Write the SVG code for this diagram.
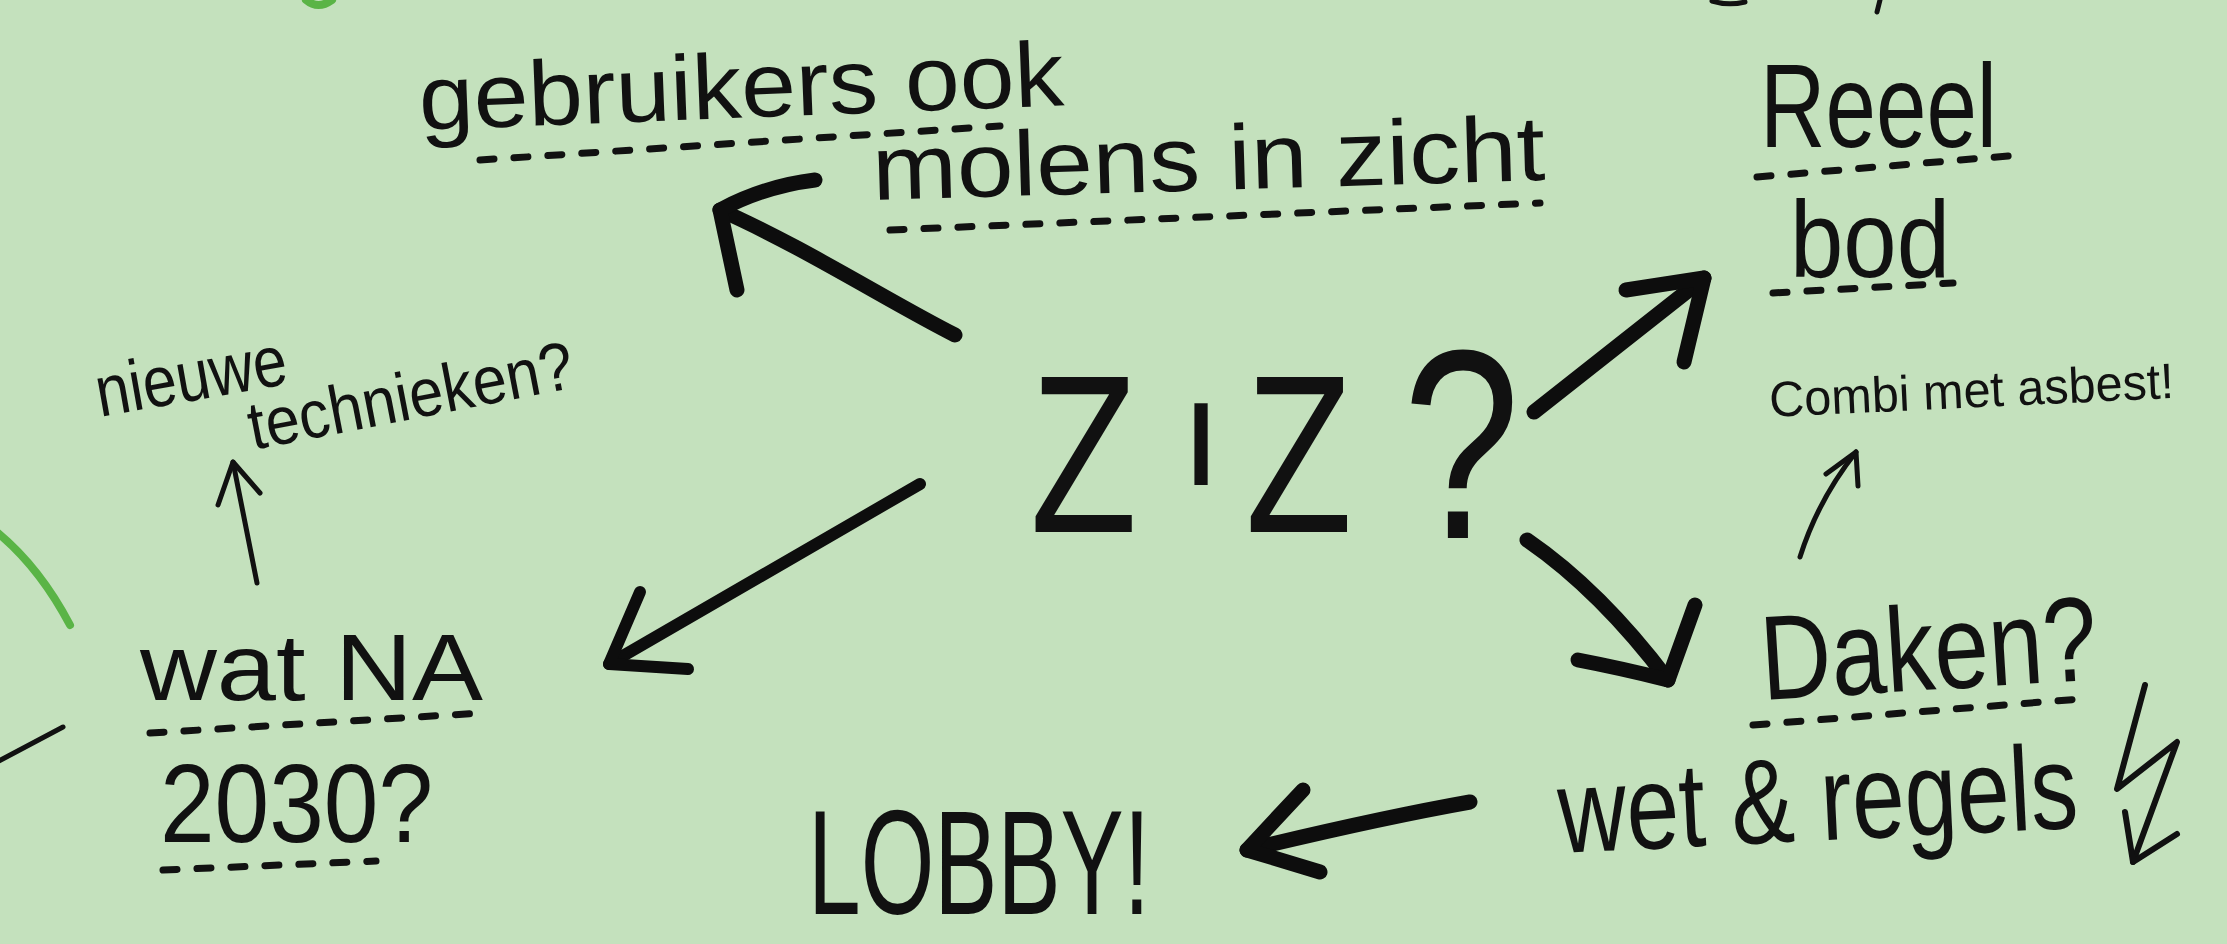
<svg xmlns="http://www.w3.org/2000/svg" width="2227" height="944" viewBox="0 0 2227 944">
<style>
.hw { font-family: "Liberation Sans", "DejaVu Sans", Arial, sans-serif; fill: #111; }
.dash { fill: none; stroke: #111; stroke-width: 7; stroke-linecap: round; stroke-dasharray: 14 20; }
.thick { fill: none; stroke: #0d0d0d; stroke-width: 15; stroke-linecap: round; stroke-linejoin: round; }
.thin { fill: none; stroke: #111; stroke-width: 5; stroke-linecap: round; stroke-linejoin: round; }
.green { fill: none; stroke: #5ab446; stroke-width: 8; stroke-linecap: round; }
</style>
<rect width="2227" height="944" fill="#c4e1bd"/>

<g id="decor">
  <path class="green" d="M306,0 Q318,10 332,0"/>
  <path class="green" d="M-2,533 Q40,568 70,625"/>
  <path class="thin" d="M-5,763 L63,727"/>
  <path class="thin" d="M1712,1 Q1728,6 1745,2"/>
  <path class="thin" d="M1880,0 L1877,12"/>
</g>

<g id="connectors">
  <path class="thick" d="M955,335 C895,305 800,245 720,210"/>
  <path class="thick" d="M815,180 Q765,186 720,210 L737,290"/>
  <path class="thick" d="M1534,412 L1704,278"/>
  <path class="thick" d="M1626,290 L1704,278 L1684,362"/>
  <path class="thick" style="stroke-width:12" d="M920,484 L609,664"/>
  <path class="thick" style="stroke-width:12" d="M640,592 L609,664 L688,669"/>
  <path class="thick" d="M1527,540 Q1600,590 1668,680"/>
  <path class="thick" d="M1695,605 L1668,680 Q1620,668 1578,660"/>
  <path class="thick" d="M1470,802 Q1380,818 1247,850"/>
  <path class="thick" d="M1303,790 L1247,850 L1320,872"/>
  <path class="thin" d="M257,583 L233,462"/>
  <path class="thin" d="M218,505 L233,462 L260,493"/>
  <path class="thin" d="M1800,557 Q1818,500 1856,452"/>
  <path class="thin" d="M1826,474 L1856,452 L1858,486"/>
  <path class="thin" style="stroke-width:6" d="M2145,685 L2117,789 L2177,742 L2133,862"/>
  <path class="thin" style="stroke-width:6" d="M2125,812 L2133,862 L2177,834"/>
</g>

<g id="center">
  <text class="hw" transform="translate(1030,532) scale(0.78,1)" font-size="225"><tspan x="0" y="0">Z</tspan><tspan x="203" y="-47" font-size="118" font-weight="700">I</tspan><tspan x="276" y="0">Z</tspan><tspan x="478" y="6" font-size="270">?</tspan></text>
</g>

<g id="gebruikers">
  <text class="hw" x="420" y="130" font-size="92" textLength="645" lengthAdjust="spacingAndGlyphs" transform="rotate(-2.2 420 130)">gebruikers ook</text>
  <path class="dash" d="M480,160 L1000,126"/>
</g>

<g id="molens">
  <text class="hw" x="873" y="200" font-size="92" textLength="673" lengthAdjust="spacingAndGlyphs" transform="rotate(-1.7 873 200)">molens in zicht</text>
  <path class="dash" d="M890,230 L1540,203"/>
</g>

<g id="reeel">
  <text class="hw" x="1760" y="147" font-size="118" textLength="237" lengthAdjust="spacingAndGlyphs">Reeel</text>
  <path class="dash" d="M1757,177 L2020,155"/>
  <text class="hw" x="1790" y="277" font-size="110" textLength="160" lengthAdjust="spacingAndGlyphs">bod</text>
  <path class="dash" d="M1773,293 L1953,283"/>
</g>

<g id="combi">
  <text class="hw" x="1770" y="417" font-size="50" textLength="405" lengthAdjust="spacingAndGlyphs" transform="rotate(-2.7 1770 417)">Combi met asbest!</text>
</g>

<g id="daken">
  <text class="hw" x="1763" y="700" font-size="120" textLength="337" lengthAdjust="spacingAndGlyphs" transform="rotate(-3.5 1763 700)">Daken?</text>
  <path class="dash" d="M1753,725 L2080,699"/>
</g>

<g id="wetregels">
  <text class="hw" x="1560" y="853" font-size="120" textLength="520" lengthAdjust="spacingAndGlyphs" transform="rotate(-2.8 1560 853)">wet &amp; regels</text>
</g>

<g id="lobby">
  <text class="hw" x="808" y="914" font-size="148" textLength="342" lengthAdjust="spacingAndGlyphs">LOBBY!</text>
</g>

<g id="watna">
  <text class="hw" x="140" y="700" font-size="95" textLength="343" lengthAdjust="spacingAndGlyphs">wat NA</text>
  <path class="dash" d="M150,733 L483,713"/>
  <text class="hw" x="160" y="842" font-size="112" textLength="273" lengthAdjust="spacingAndGlyphs">2030?</text>
  <path class="dash" d="M163,870 L376,861"/>
</g>

<g id="nieuwe">
  <text class="hw" x="100" y="417" font-size="72" textLength="193" lengthAdjust="spacingAndGlyphs" transform="rotate(-10 100 417)">nieuwe</text>
  <text class="hw" x="253" y="450" font-size="68" textLength="330" lengthAdjust="spacingAndGlyphs" transform="rotate(-11 253 450)">technieken?</text>
</g>
</svg>
